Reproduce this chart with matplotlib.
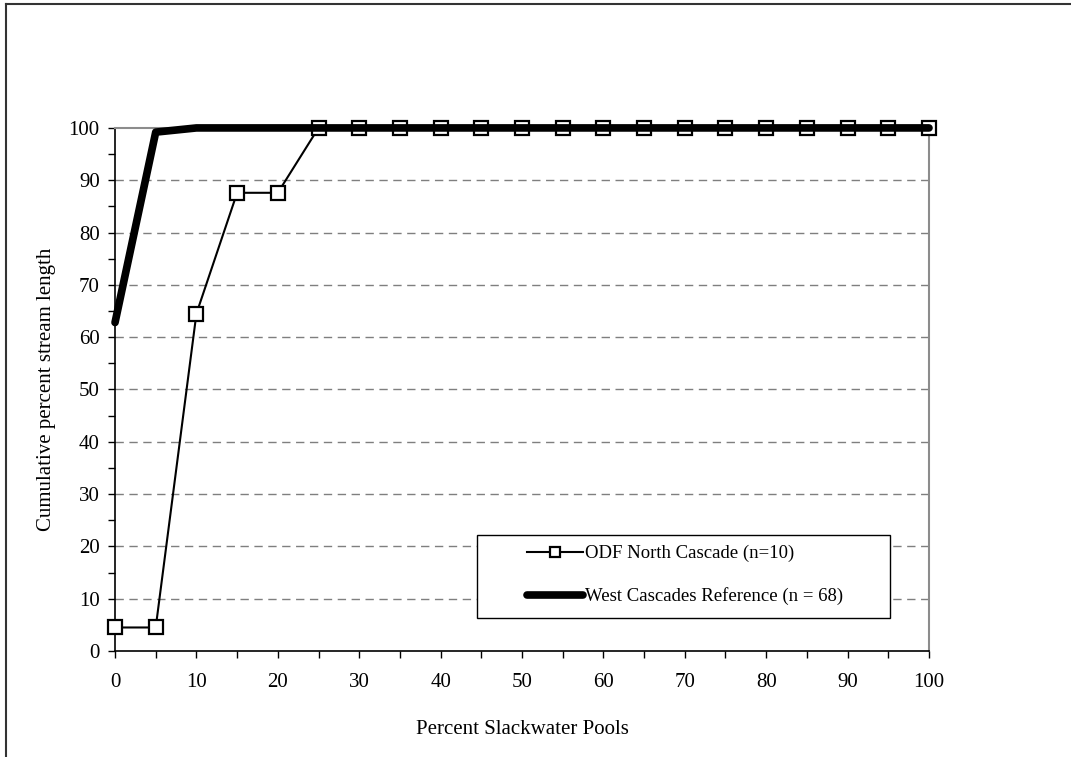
import matplotlib
matplotlib.use("Agg")
import matplotlib.pyplot as plt
from matplotlib.lines import Line2D
from matplotlib.patches import Rectangle
import numpy as np

# %%
pct_slackwater = [0, 5, 10, 15, 20, 25, 30, 35, 40, 45, 50,
                  55, 60, 65, 70, 75, 80, 85, 90, 95, 100]
odf_north = [4.5, 4.5, 64.5, 87.6, 87.6, 100, 100, 100, 100, 100, 100,
             100, 100, 100, 100, 100, 100, 100, 100, 100, 100]
west_ref = [62.8, 99.2, 100, 100, 100, 100, 100, 100, 100, 100, 100,
            100, 100, 100, 100, 100, 100, 100, 100, 100, 100]
odf_label = "ODF North Cascade (n=10)"
west_label = "West Cascades Reference (n = 68)"

# %%
plt.rcParams["font.family"] = ["Liberation Serif", "DejaVu Serif"]
plt.rcParams["font.size"] = 15

fig = plt.figure(figsize=(10.71, 7.57), dpi=100)
ax = fig.add_axes([0.1074, 0.140, 0.760, 0.691])

ax.plot(pct_slackwater, odf_north, color="black", lw=1.5, marker="s",
        markersize=10, markerfacecolor="white", markeredgecolor="black",
        markeredgewidth=1.6, label=odf_label, zorder=3, clip_on=False)
ax.plot(pct_slackwater, west_ref, color="black", lw=5.5,
        solid_capstyle="round", label=west_label, zorder=4, clip_on=False)

ax.set_xlim(0, 100)
ax.set_ylim(0, 100)
ax.set_xticks(np.arange(0, 101, 10))
ax.set_yticks(np.arange(0, 101, 10))
ax.set_xticks(np.arange(0, 101, 5), minor=True)
ax.set_yticks(np.arange(0, 101, 5), minor=True)
ax.tick_params(which="both", direction="out", length=5, width=1, color="black")
ax.tick_params(axis="x", pad=11)
ax.tick_params(axis="y", pad=6)

for y in range(10, 100, 10):
    ax.axhline(y, color="#7f7f7f", lw=1, dashes=(6, 4), zorder=1)

for side in ("top", "right"):
    ax.spines[side].set_color("#8c8c8c")
    ax.spines[side].set_linewidth(1.5)
for side in ("left", "bottom"):
    ax.spines[side].set_color("black")
    ax.spines[side].set_linewidth(1.2)

ax.set_xlabel("Percent Slackwater Pools", labelpad=20)
ax.set_ylabel("Cumulative percent stream length", labelpad=9)

# legend box drawn separately so the entries can sit off-centre like the original
ax.add_patch(Rectangle((0.4447, 0.0631), 0.507, 0.1587, transform=ax.transAxes,
                       facecolor="white", edgecolor="black", lw=1.0, zorder=5))
leg = ax.legend(loc="center left", bbox_to_anchor=(0.506, 0.145),
                frameon=False, fontsize=13.5, handlelength=3.0,
                handletextpad=0.1, labelspacing=1.35, borderpad=0,
                borderaxespad=0, markerscale=0.75)
leg.set_zorder(6)

# figure border (left and top edge)
fig.add_artist(Line2D([6 / 1071, 6 / 1071], [0, 1 - 4 / 757], color="#333333", lw=1.5))
fig.add_artist(Line2D([6 / 1071, 1], [1 - 4 / 757, 1 - 4 / 757], color="#333333", lw=1.5))

fig.savefig("out.png", dpi=100)
